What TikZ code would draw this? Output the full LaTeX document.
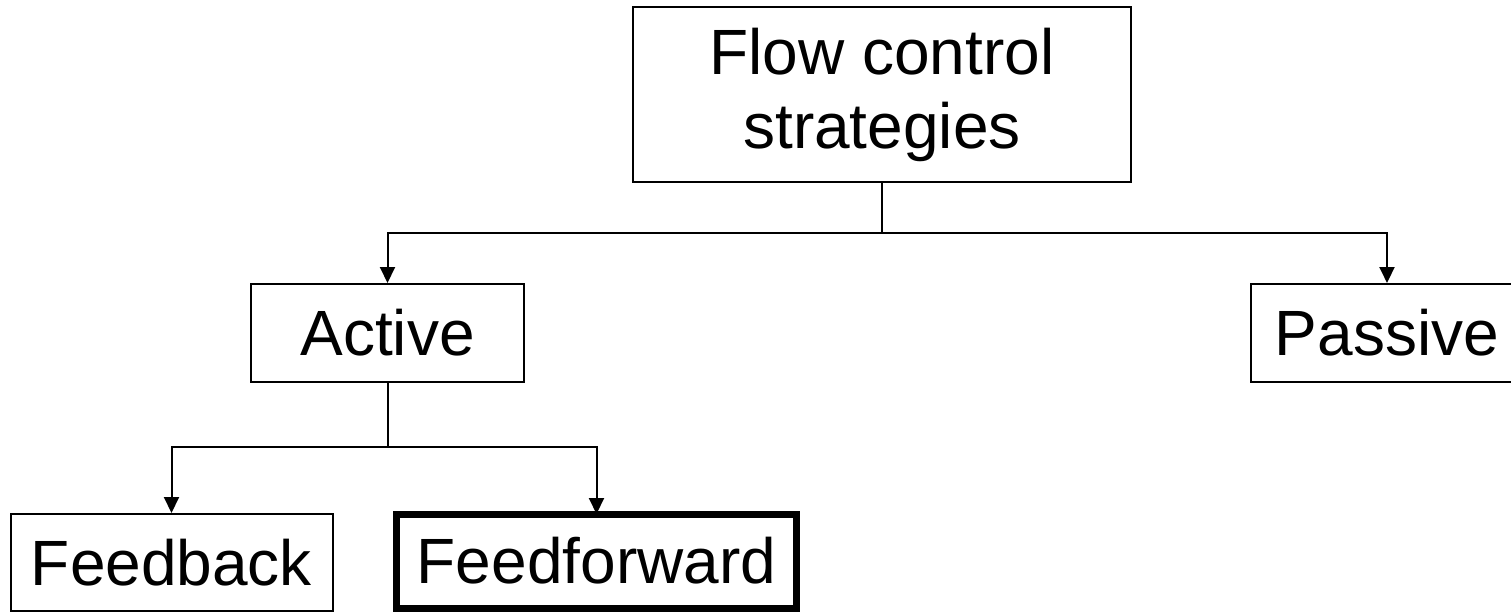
\documentclass[tikz,border=0pt]{standalone}
\usepackage{fontspec}
\setmainfont{Liberation Sans}
\usetikzlibrary{arrows.meta}
\tikzset{
  box/.style={draw=black, line width=2pt, inner sep=0pt, align=center,
    font=\fontsize{64}{74}\selectfont},
  boldbox/.style={box, line width=7pt},
  link/.style={draw=black, line width=2pt},
  arrow/.style={link, -{Triangle[length=16pt,width=15pt]}}
}
\begin{document}
\begin{tikzpicture}[x=1pt,y=-1pt]
  \clip (0,0) rectangle (1511,613);
  \fill[white] (0,0) rectangle (1511,613);

  % boxes
  \node[box, minimum width=498pt, minimum height=175pt] (flow) at (882,94.5) {Flow control\\strategies};
  \node[box, minimum width=273pt, minimum height=98pt] (active) at (387.5,333) {Active};
  \node[box, minimum width=272pt, minimum height=98pt] (passive) at (1387,333) {Passive};
  \node[box, minimum width=322pt, minimum height=97pt] (feedback) at (171.5,562.5) {Feedback};
  \node[boldbox, minimum width=400pt, minimum height=94pt] (feedforward) at (596.5,561) {Feedforward};

  % branching points
  \coordinate (j1) at (882,233);
  \coordinate (j2) at (387.5,447);

  % connectors
  \draw[link] (flow.south) -- (j1);
  \draw[arrow] (j1) -| (active.north);
  \draw[arrow] (j1) -| (passive.north);
  \draw[link] (active.south) -- (j2);
  \draw[arrow] (j2) -| (feedback.north);
  \draw[arrow] (j2) -| ([yshift=-3.5pt]feedforward.north);
\end{tikzpicture}
\end{document}
